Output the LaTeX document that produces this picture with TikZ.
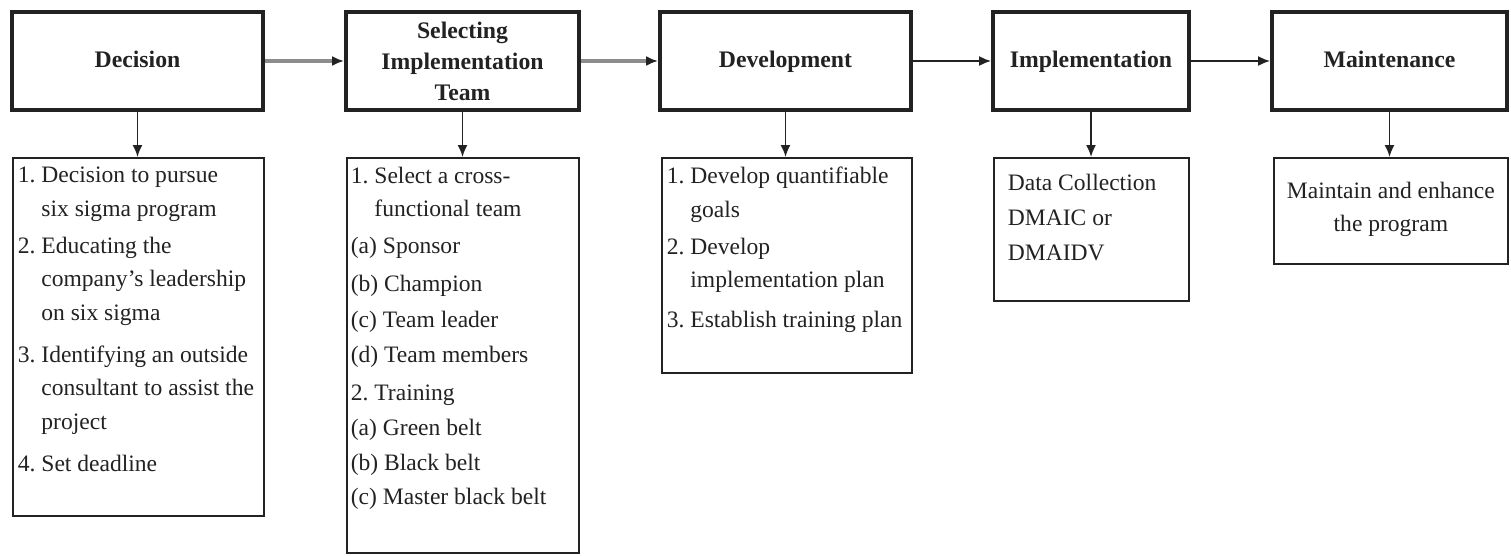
\documentclass[tikz,border=0pt]{standalone}
\usepackage{fontspec}
\setmainfont{Liberation Serif}
\usetikzlibrary{arrows.meta,positioning}
\definecolor{cink}{HTML}{222222}
\definecolor{cgrey}{HTML}{8C8C8C}
\tikzset{
  stage/.style={draw=cink, line width=2.2pt, minimum height=1.96cm, inner sep=2pt, align=center, text=cink,
    font=\bfseries\fontsize{13.5}{17.6}\selectfont},
  task/.style={draw=cink, line width=1pt, anchor=north west, inner xsep=0.1cm, inner ysep=0.18cm, align=left, text=cink,
    font=\frenchspacing\fontsize{13.4}{19.1}\selectfont},
  pre/.style={-{Latex[length=2.4mm,width=2mm]}, line width=1pt, draw=cink},
  greypre/.style={-{Latex[length=2.4mm,width=2mm,color=cink]}, line width=2pt, draw=cgrey},
}
% top-aligned text block of fixed size: width, height, text
\newcommand{\tbox}[3]{\parbox[t][#2][t]{#1}{#3}}
\newcommand{\ind}[1]{\phantom{#1~}}

\begin{document}
\begin{tikzpicture}[x=1cm,y=1cm]
\useasboundingbox (0,0) rectangle (30.22,-11.1);
% the five stages
\node[stage, minimum width=5.02cm] (dec) at (2.75,-1.22) {\strut Decision};
\node[stage, minimum width=4.66cm] (sel) at (9.25,-1.22) {Selecting\\Implementation\\Team};
\node[stage, minimum width=5.02cm] (dev) at (15.71,-1.22) {\strut Development};
\node[stage, minimum width=3.92cm] (imp) at (21.82,-1.22) {\strut Implementation};
\node[stage, minimum width=4.70cm] (mnt) at (27.79,-1.22) {\strut Maintenance};
% what each stage involves
\node[task] (declist) at (0.24,-3.14) {\tbox{4.82cm}{6.80cm}{%
  1. Decision to pursue\\
  \ind{1.}six sigma program\\[2pt]
  2. Educating the\\
  \ind{2.}company's leadership\\
  \ind{2.}on six sigma\\[4.8pt]
  3. Identifying an outside\\
  \ind{3.}consultant to assist the\\
  \ind{3.}project\\[4.8pt]
  4. Set deadline}};
\node[task, inner xsep=0.08cm] (sellist) at (6.92,-3.14) {\tbox{4.48cm}{7.54cm}{%
  1. Select a cross-\\
  \ind{1.}functional team\\[2pt]
  (a) Sponsor\\[2.2pt]
  (b) Champion\\[1.4pt]
  (c) Team leader\\[0.9pt]
  (d) Team members\\[2.6pt]
  2. Training\\[0.9pt]
  (a) Green belt\\[0.9pt]
  (b) Black belt\\[0.3pt]
  (c) Master black belt}};
\node[task] (devlist) at (13.22,-3.14) {\tbox{4.80cm}{3.94cm}{%
  1. Develop quantifiable\\
  \ind{1.}goals\\[2pt]
  2. Develop\\
  \ind{2.}implementation plan\\[3.7pt]
  3. Establish training plan}};
\node[task, inner xsep=0.28cm, inner ysep=0.32cm] (implist) at (19.86,-3.14) {\tbox{3.34cm}{2.22cm}{%
  Data Collection\\[1pt]
  DMAIC or\\[1pt]
  DMAIDV}};
\node[task, inner ysep=0.48cm] (mntlist) at (25.46,-3.14) {\tbox{4.48cm}{1.16cm}{\centering
  Maintain and enhance\\
  the program}};
% flow between the stages
\draw[greypre] (dec) -- (sel);
\draw[greypre] (sel) -- (dev);
\draw[pre] (dev) -- (imp);
\draw[pre] (imp) -- (mnt);
% each stage down to its list
\foreach \s in {dec,sel,dev,imp,mnt}
  \draw[pre] (\s.south) -- (\s.south |- \s list.north);
\end{tikzpicture}
\end{document}
